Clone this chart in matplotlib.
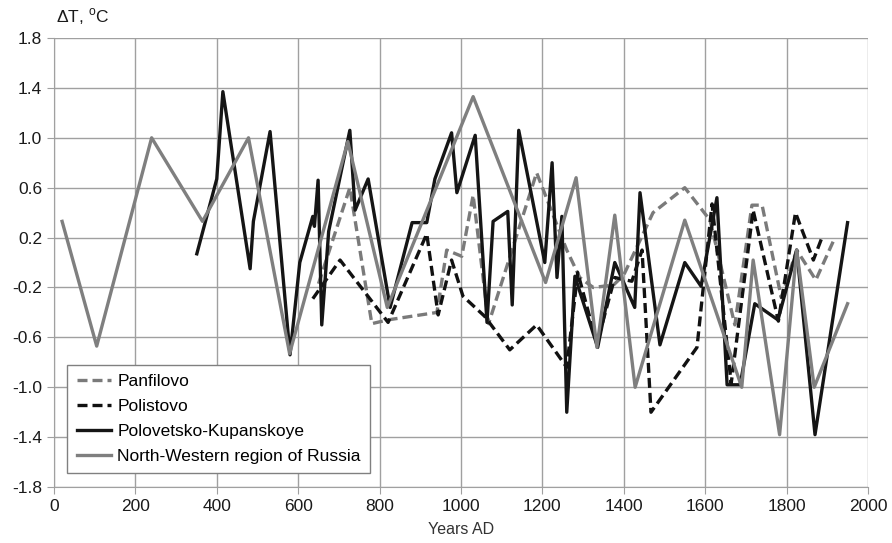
import matplotlib
matplotlib.use("Agg")
import matplotlib.pyplot as plt

plt.rcParams['font.family'] = ['Liberation Sans', 'DejaVu Sans']
plt.rcParams['axes.unicode_minus'] = False

# North-Western region of Russia
nw_years = [20, 105, 240, 365, 478, 579, 722, 819, 1030, 1208, 1283, 1334,
            1378, 1428, 1550, 1690, 1718, 1783, 1825, 1868, 1950]
nw_vals = [0.33, -0.67, 1.0, 0.33, 1.0, -0.73, 0.97, -0.36, 1.33, -0.16, 0.68,
           -0.68, 0.38, -1.0, 0.34, -1.0, 0.02, -1.38, 0.1, -1.0, -0.33]

# Polovetsko-Kupanskoye
pk_years = [351, 400, 415, 482, 490, 531, 580, 604, 636, 640, 649, 658, 675,
            727, 740, 772, 826, 880, 916, 936, 977, 990, 1035, 1064, 1079,
            1115, 1126, 1142, 1206, 1224, 1236, 1248, 1260, 1280, 1336, 1378,
            1427, 1440, 1489, 1550, 1590, 1629, 1654, 1686, 1722, 1779, 1825,
            1870, 1950]
pk_vals = [0.07, 0.67, 1.37, -0.05, 0.33, 1.05, -0.74, 0.0, 0.37, 0.29, 0.66,
           -0.5, 0.25, 1.06, 0.42, 0.67, -0.36, 0.32, 0.32, 0.67, 1.04, 0.56,
           1.02, -0.48, 0.33, 0.41, -0.34, 1.06, 0.0, 0.8, -0.12, 0.37, -1.2,
           -0.11, -0.68, 0.0, -0.36, 0.56, -0.66, 0.0, -0.19, 0.52, -0.98,
           -0.98, -0.33, -0.46, 0.1, -1.38, 0.32]

# Polistovo
pl_years = [636, 703, 821, 916, 944, 977, 1005, 1058, 1120, 1186, 1260, 1287,
            1334, 1378, 1420, 1445, 1467, 1580, 1617, 1664, 1718, 1780, 1822,
            1866, 1887]
pl_vals = [-0.29, 0.02, -0.48, 0.23, -0.42, 0.02, -0.27, -0.43, -0.7, -0.5,
           -0.84, -0.08, -0.65, -0.12, -0.15, 0.1, -1.2, -0.68, 0.47, -0.97,
           0.42, -0.47, 0.4, 0.02, 0.2]

# Panfilovo
pf_years = [650, 727, 781, 820, 941, 965, 1002, 1030, 1068, 1186, 1260, 1292,
            1325, 1375, 1400, 1472, 1550, 1612, 1673, 1715, 1740, 1787, 1825,
            1872, 1919]
pf_vals = [-0.17, 0.6, -0.49, -0.46, -0.4, 0.1, 0.05, 0.54, -0.49, 0.72, 0.1,
           -0.12, -0.2, -0.18, -0.1, 0.4, 0.6, 0.34, -0.5, 0.46, 0.46, -0.28,
           0.1, -0.14, 0.2]

y_ticks = [-1.8, -1.4, -1.0, -0.6, -0.2, 0.2, 0.6, 1.0, 1.4, 1.8]
x_ticks = [0, 200, 400, 600, 800, 1000, 1200, 1400, 1600, 1800, 2000]

fig = plt.figure(figsize=(8.92, 5.43), dpi=100)
ax = fig.add_axes([0.0605, 0.103, 0.9125, 0.827])

ax.plot(pf_years, pf_vals, color="#7a7a7a", lw=2.4, ls=(0, (3, 1.5)),
        label="Panfilovo")
ax.plot(pl_years, pl_vals, color="#111111", lw=2.4, ls=(0, (3, 1.5)),
        label="Polistovo")
ax.plot(pk_years, pk_vals, color="#151515", lw=2.4, label="Polovetsko-Kupanskoye")
ax.plot(nw_years, nw_vals, color="#7f7f7f", lw=2.4,
        label="North-Western region of Russia")

ax.set_xlim(0, 2000)
ax.set_ylim(-1.8, 1.8)
ax.set_xticks(x_ticks)
ax.set_yticks(y_ticks)
ax.set_yticklabels(["%.1f" % v for v in y_ticks])
ax.grid(True, color="#a0a0a0", lw=1)
ax.set_axisbelow(True)
for s in ["top", "right"]:
    ax.spines[s].set_visible(False)
for s in ["left", "bottom"]:
    ax.spines[s].set_color("#a0a0a0")
ax.tick_params(colors="#a0a0a0", labelcolor="#1a1a1a", labelsize=12.5, length=5)

ax.set_xlabel("Years AD", fontsize=11.5, color="#333333", labelpad=6)
ax.text(0.003, 1.025, r"ΔT, $^\mathregular{o}$C", transform=ax.transAxes,
        fontsize=12.5, color="#1a1a1a", ha="left", va="bottom")

leg = ax.legend(loc="lower left", bbox_to_anchor=(0.016, 0.031),
                borderaxespad=0, fontsize=12.5, handlelength=2.0,
                handletextpad=0.35, borderpad=0.55, labelspacing=0.55,
                fancybox=False, framealpha=1)
leg.get_frame().set_edgecolor("#808080")
leg.get_frame().set_linewidth(1)

fig.savefig("out.png", dpi=100)
